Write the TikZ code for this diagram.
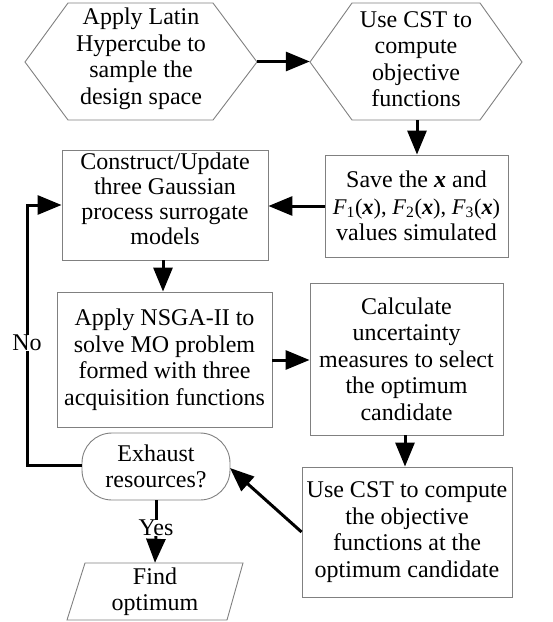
\documentclass[tikz,border=0pt]{standalone}
\usepackage{fontspec}
\setmainfont{Liberation Serif}
\usetikzlibrary{arrows.meta,calc}
\begin{document}
\begin{tikzpicture}[x=1pt,y=-1pt,
  every node/.style={font=\fontsize{24}{26.5}\selectfont, align=center, inner sep=0pt},
  shapeline/.style={draw=black!50, line width=0.9pt},
  boxnode/.style={shapeline, rectangle},
  conn/.style={line width=3pt, black},
  arr/.style={conn, -{Triangle[length=24pt,width=19pt]}}]
\useasboundingbox (0,0) rectangle (553,622);
% hexagons
\draw[shapeline] (25,62) -- (68,3) -- (213,3) -- (257,62) -- (213,120) -- (68,120) -- cycle;
\node[minimum width=232pt, minimum height=117pt] (h1) at (141,61.5) {};
\node at (141,59) {Apply Latin\\Hypercube to\\sample the\\design space};
\draw[shapeline] (310,62) -- (352,3) -- (480,3) -- (522,62) -- (480,120) -- (352,120) -- cycle;
\node[minimum width=212pt, minimum height=117pt] (h2) at (416,61.5) {};
\node at (416,59) {Use CST to\\compute\\objective\\functions};
% boxes
\node[boxnode, minimum width=183pt, minimum height=102pt] (save) at (416.5,206)
  {Save the \textbf{\textit{x}} and\\{\fontsize{22.4}{26.5}\selectfont\textit{F}\textsubscript{1}(\textbf{\textit{x}}), \textit{F}\textsubscript{2}(\textbf{\textit{x}}), \textit{F}\textsubscript{3}(\textbf{\textit{x}})}\\values simulated};
\node[boxnode, minimum width=206pt, minimum height=110pt] (cons) at (165,205) {};
\node[font=\fontsize{24}{25}\selectfont] at (165,199) {Construct/Update\\three Gaussian\\process surrogate\\models};
\node[boxnode, minimum width=215pt, minimum height=135pt] (nsga) at (164.5,359.5)
  {Apply NSGA-II to\\solve MO problem\\formed with three\\acquisition functions};
\node[boxnode, minimum width=193pt, minimum height=152pt] (calc) at (406.5,359)
  {Calculate\\uncertainty\\measures to select\\the optimum\\candidate};
\node[boxnode, minimum width=210pt, minimum height=130pt] (cst) at (407,532)
  {Use CST to compute\\the objective\\functions at the\\optimum candidate};
\node[shapeline, rectangle, rounded corners=30pt, minimum width=148pt, minimum height=67pt] (exh) at (156,466.5)
  {Exhaust\\resources?};
\draw[shapeline] (85,563) -- (243,563) -- (227,620) -- (67,620) -- cycle;
\node[minimum width=160pt, minimum height=57pt] (find) at (155,591.5) {};
\node at (155,591.5) {Find\\optimum};
\node (yes) at (156,528) {Yes};
\node (no) at (27,343) {No};
\coordinate (nobot) at (27,465);
\coordinate (notop) at (27,205);
% connectors
\draw[arr] (h1.east) -- (h2.west);
\draw[arr] (417,120) -- (save.north -| 417,0);
\draw[arr] (save.west) -- (cons.east |- save.west);
\draw[arr] (cons.south -| 163,0) -- (nsga.north -| 163,0);
\draw[arr] (nsga.east |- 0,360) -- (calc.west |- 0,360);
\draw[arr] (calc.south -| 405,0) -- (cst.north -| 405,0);
\draw[arr] (cst.west) -- (230,468);
\draw[conn] (exh.south) -- (yes.north);
\draw[arr] (yes.south) -- (find.north);
\draw[conn] (exh.west |- nobot) -- (nobot) -- (no.south);
\draw[arr] (no.north) -- (notop) -- (cons.west |- notop);
\end{tikzpicture}
\end{document}
